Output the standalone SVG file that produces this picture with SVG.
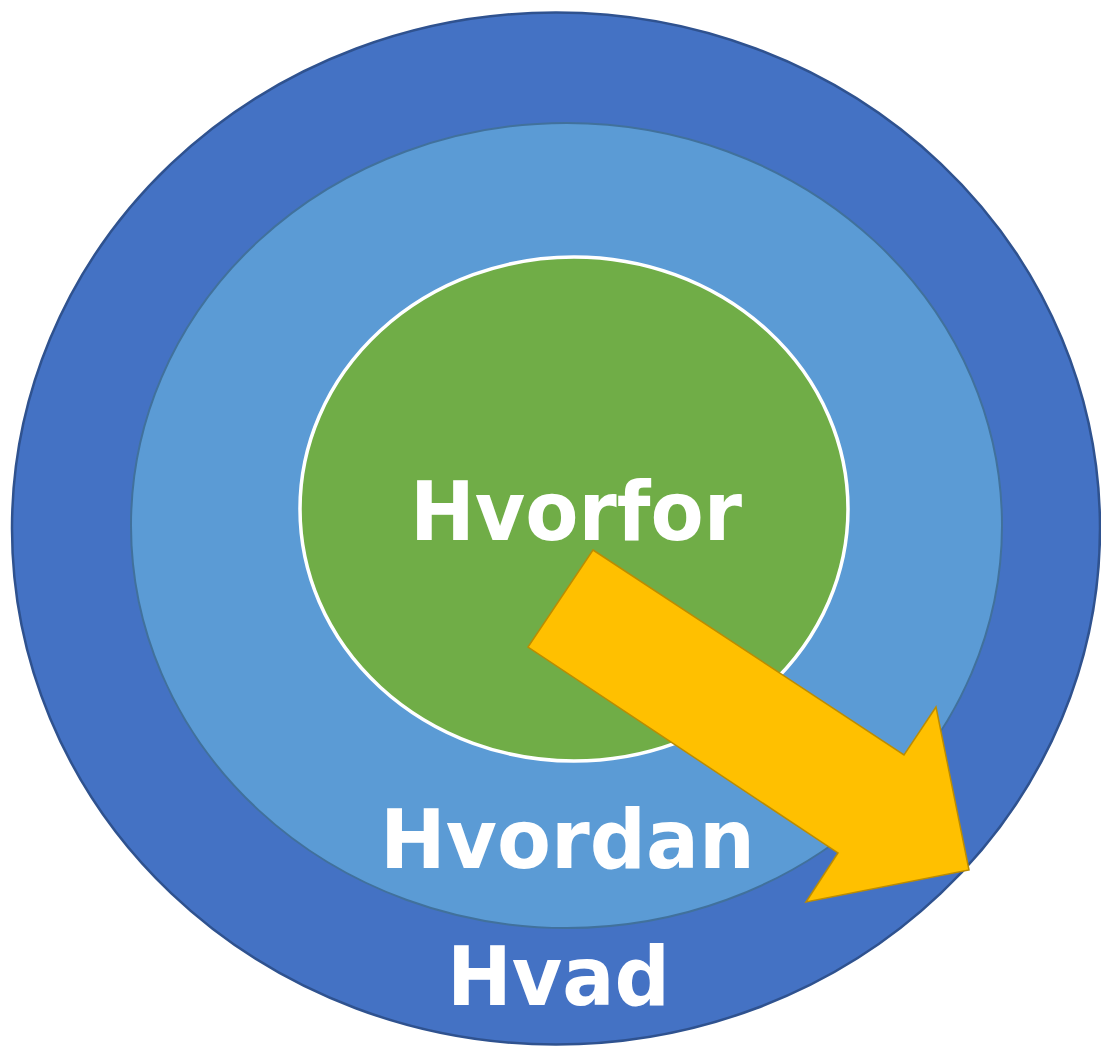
<svg xmlns="http://www.w3.org/2000/svg" width="1101" height="1047" viewBox="0 0 1101 1047">
<style>
.lbl{font-family:"DejaVu Sans","Liberation Sans",sans-serif;font-weight:bold;font-size:82px;fill:#ffffff;}
</style>
<rect width="1101" height="1047" fill="#ffffff"/>
<g id="hvad">
<ellipse cx="556" cy="528.5" rx="544" ry="516" fill="#4472C4" stroke="#2F528F" stroke-width="2.5"/>
<text class="lbl" x="447" y="1005" textLength="223" lengthAdjust="spacingAndGlyphs">Hvad</text>
</g>
<g id="hvordan">
<ellipse cx="566.5" cy="525.5" rx="435.5" ry="402.5" fill="#5B9BD5" stroke="#41719C" stroke-width="2"/>
<text class="lbl" x="380" y="868" textLength="375" lengthAdjust="spacingAndGlyphs">Hvordan</text>
</g>
<g id="hvorfor">
<ellipse cx="574" cy="509" rx="274" ry="252" fill="#70AD47" stroke="#ffffff" stroke-width="3.5"/>
<text class="lbl" x="410" y="540" textLength="332" lengthAdjust="spacingAndGlyphs">Hvorfor</text>
</g>
<g id="connectors">
<polygon points="593,550 904,755 936,707 969,870 806,902 838,853 528,647" fill="#FFC000" stroke="#BC8C00" stroke-width="1.5" stroke-linejoin="miter"/>
</g>
</svg>
